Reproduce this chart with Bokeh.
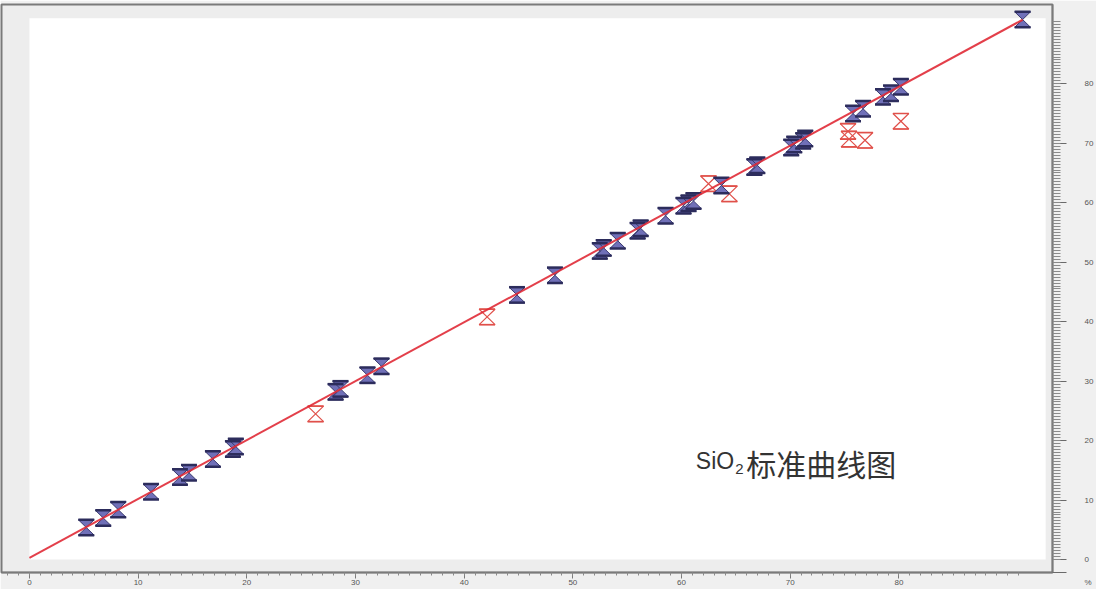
from bokeh.plotting import figure
from bokeh.models import Range1d, FixedTicker, BoxAnnotation, Label
from bokeh.embed import file_html
from bokeh.resources import INLINE

# ---- data (measured x, standard y) ----
blue_x = [5.23, 6.79, 8.17, 11.19, 13.85, 14.68, 16.88, 18.72, 18.99,
          28.17, 28.62, 31.10, 32.39, 44.86, 48.35, 52.48, 52.84, 54.13,
          55.96, 56.24, 58.53, 60.18, 60.64, 61.10, 63.67, 66.70, 66.97,
          70.09, 70.37, 71.19, 71.38, 75.78, 76.70, 78.53, 79.27, 80.18, 91.38]
blue_y = [5.4, 7.0, 8.4, 11.4, 13.9, 14.6, 16.9, 18.6, 19.0,
          28.2, 28.7, 31.0, 32.5, 44.5, 47.8, 51.9, 52.4, 53.6,
          55.3, 55.7, 57.8, 59.5, 59.9, 60.3, 62.9, 66.0, 66.3,
          69.3, 69.8, 70.4, 70.8, 75.0, 75.8, 77.8, 78.4, 79.5, 90.8]
red_x = [26.33, 42.11, 62.48, 64.40, 75.32, 75.41, 76.88, 80.18]
red_y = [24.5, 40.8, 63.2, 61.5, 72.0, 70.7, 70.5, 73.7]

fit_slope = 0.99
fit_intercept = 0.3

x_ticks = [0, 10, 20, 30, 40, 50, 60, 70, 80]
y_ticks = [0, 10, 20, 30, 40, 50, 60, 70, 80]
title_main = "SiO"
title_sub = "2"
title_cn = "标准曲线图"
unit_label = "%"
unit_tick = -2.1

# ---- figure ----
p = figure(width=1096, height=589, output_backend="svg", toolbar_location=None,
           x_range=Range1d(-2.57, 94.13), y_range=Range1d(-2.17, 93.33),
           y_axis_location="right", x_axis_location="below",
           min_border_left=1, min_border_right=44, min_border_top=4, min_border_bottom=17)
p.background_fill_color = "#ededed"
p.border_fill_color = "#f0f0f0"
p.outline_line_color = "#7a7a7a"
p.outline_line_width = 2
p.grid.visible = False

# white inner area
p.add_layout(BoxAnnotation(left=0, right=93.5, bottom=0, top=91.0,
                           fill_color="white", fill_alpha=1, line_alpha=0,
                           level="underlay"))

# bottom ruler
xa = p.xaxis[0]
xa.ticker = FixedTicker(ticks=x_ticks, minor_ticks=list(range(-2, 92)))
xa.axis_line_color = "#7a7a7a"
xa.axis_line_width = 1.5
xa.major_tick_line_color = "#7a7a7a"
xa.minor_tick_line_color = "#8a8a8a"
xa.major_tick_in = 0
xa.major_tick_out = 6
xa.minor_tick_in = 0
xa.minor_tick_out = 3
xa.major_label_standoff = 1
xa.major_label_text_font_size = "8px"
xa.major_label_text_color = "#555555"
xa.major_label_text_font = "Liberation Sans"

# right ruler (the unit sign sits under the "0" label)
ya = p.yaxis[0]
ya.ticker = FixedTicker(ticks=y_ticks + [unit_tick],
                        minor_ticks=[i * 0.5 for i in range(0, 182)])
ya.major_label_overrides = {unit_tick: "\n\n" + unit_label}
ya.axis_line_color = "#7a7a7a"
ya.axis_line_width = 1.5
ya.major_tick_line_color = "#6a6a6a"
ya.minor_tick_line_color = "#8a8a8a"
ya.major_tick_in = 0
ya.major_tick_out = 14
ya.minor_tick_in = 0
ya.minor_tick_out = 8
ya.major_label_standoff = 18
ya.major_label_text_font_size = "8px"
ya.major_label_text_color = "#555555"
ya.major_label_text_font = "Liberation Sans"
ya.major_label_orientation = "horizontal"

# hourglass markers (half-width / half-height in data units)
w, h = 0.73, 1.3


def hourglass(xv, yv):
    xs = [[x - w, x + w, x, x + w, x - w, x] for x in xv]
    ys = [[y + h, y + h, y, y - h, y - h, y] for y in yv]
    return xs, ys


rxs, rys = hourglass(red_x, red_y)
p.patches(rxs, rys, fill_alpha=0, line_color="#e0504a", line_width=1.2)
p.segment(x0=[x - w for x in red_x], y0=[y + h for y in red_y],
          x1=[x + w for x in red_x], y1=[y + h for y in red_y],
          line_color="#e0504a", line_width=1.6)
p.segment(x0=[x - w for x in red_x], y0=[y - h for y in red_y],
          x1=[x + w for x in red_x], y1=[y - h for y in red_y],
          line_color="#e0504a", line_width=1.6)

bxs, bys = hourglass(blue_x, blue_y)
p.patches(bxs, bys, fill_color="#7070b8", line_color="#3a3a70", line_width=1)
p.segment(x0=[x - w for x in blue_x], y0=[y + h for y in blue_y],
          x1=[x + w for x in blue_x], y1=[y + h for y in blue_y],
          line_color="#2c2c5c", line_width=2.5)
p.segment(x0=[x - w for x in blue_x], y0=[y - h for y in blue_y],
          x1=[x + w for x in blue_x], y1=[y - h for y in blue_y],
          line_color="#2c2c5c", line_width=2.5)

# regression line
x_end = max(blue_x)
p.line([0, x_end], [fit_intercept, fit_intercept + fit_slope * x_end],
       line_color="#e02a36", line_width=2, line_alpha=0.9)

# title text
p.add_layout(Label(x=61.31, y=16.6, text=title_main, text_font="Liberation Sans",
                   text_font_size="23px", text_color="#333333", text_baseline="alphabetic"))
p.add_layout(Label(x=64.95, y=15.25, text=title_sub, text_font="Liberation Sans",
                   text_font_size="15px", text_color="#333333", text_baseline="alphabetic"))
p.add_layout(Label(x=65.95, y=16.2, text=title_cn, text_font="Noto Sans CJK SC",
                   text_font_size="30px", text_color="#333333", text_baseline="alphabetic"))

open("out.html", "w").write(file_html(p, INLINE))
